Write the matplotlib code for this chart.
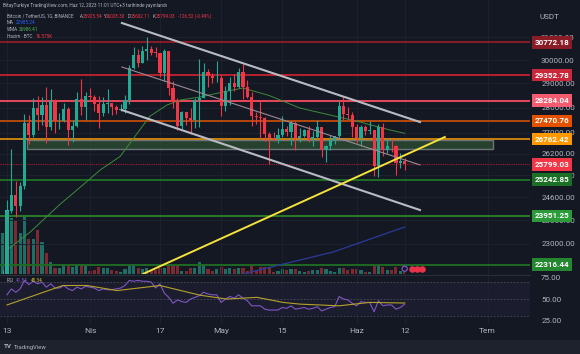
import numpy as np
import matplotlib.pyplot as plt
import matplotlib.transforms as mtransforms
from matplotlib.patches import Rectangle
from matplotlib.ticker import NullLocator

plt.rcParams['font.family'] = ['Roboto', 'DejaVu Sans']

# ---- daily candles BTCUSDT, day 0 = 13 Mar 2023 ----
days = list(range(-1, 92))
opens = [20455, 21998, 24113, 24670, 24285, 24998, 27395, 26907, 27972, 27717,
         28105, 27250, 28295, 27454, 27462, 27968, 27124, 27261, 28348, 28028,
         28465, 28452, 28171, 27800, 28165, 28175, 28033, 27906, 27948, 28333,
         29652, 30235, 29884, 30394, 30485, 30318, 30316, 29431, 30380, 28797,
         28243, 27262, 27817, 27591, 27514, 28300, 28414, 29472, 29311, 29231,
         29233, 28068, 28669, 29026, 28838, 29506, 28848, 28430, 27668, 27628,
         27598, 26969, 26796, 26775, 26917, 27163, 27033, 27405, 26822, 26891,
         27102, 26748, 26849, 27226, 26334, 26476, 26720, 26868, 28085, 27745,
         27702, 27219, 26819, 27249, 27069, 27115, 25728, 27230, 26339, 26498,
         26477, 25841, 25925.54]
highs = [22150, 24500, 26386, 25196, 25167, 27756, 27724, 28390, 28472, 28438,
         28868, 28750, 28374, 27787, 28194, 28044, 27499, 28650, 29184, 28660,
         28799, 28530, 28500, 28444, 28775, 28190, 28100, 28173, 28530, 29770,
         30550, 30480, 30620, 31000, 30610, 30550, 30316, 30485, 30413, 29095,
         28380, 27876, 27818, 28000, 28400, 30036, 29890, 29600, 29448, 29969,
         29337, 28879, 29266, 29379, 29677, 29820, 29138, 28631, 27834, 28336,
         27624, 27055, 27020, 27190, 27666, 27279, 27465, 27485, 27183, 27150,
         27266, 27060, 27495, 27248, 26538, 26932, 26886, 28261, 28447, 28044,
         27834, 27350, 27300, 27317, 27455, 27132, 27355, 27400, 26808, 26783,
         26533, 26210, 26028.30]
lows = [20270, 21813, 24046, 23896, 24123, 24890, 26578, 26827, 27124, 27303,
        26601, 27105, 27000, 27156, 27417, 26552, 26631, 27240, 27720, 27525,
        28266, 27856, 27200, 27662, 27805, 27711, 27766, 27871, 27800, 28170,
        29600, 29700, 29866, 30000, 30238, 30120, 29275, 29100, 28534, 28010,
        27125, 27150, 27331, 26942, 27200, 27235, 28380, 28870, 29031, 29080,
        27666, 27872, 28110, 28667, 28800, 28374, 28395, 27270, 27339, 26777,
        26706, 25811, 26698, 26600, 26847, 26867, 26550, 26361, 26630, 26830,
        26652, 26500, 26806, 26080, 25871, 26339, 26560, 26783, 27524, 27554,
        26841, 26605, 26505, 26920, 26951, 25388, 25350, 26126, 26210, 26269,
        25400, 25676, 25602.11]
closes = opens[1:] + [25799.03]

# volume, thousand BTC
volumes = [410, 640, 560, 540, 410, 590, 350, 350, 440, 320,
           210, 120, 60, 60, 80, 80, 70, 100, 100, 90,
           30, 40, 70, 60, 60, 40, 30, 20, 50, 80,
           80, 60, 50, 60, 30, 40, 60, 60, 90, 80,
           80, 30, 30, 60, 60, 120, 90, 50, 30, 50,
           70, 50, 60, 50, 60, 60, 30, 80, 40, 70,
           70, 70, 20, 30, 50, 40, 50, 50, 30, 20,
           30, 40, 40, 60, 50, 30, 20, 60, 60, 40,
           50, 50, 40, 20, 20, 80, 80, 70, 40, 40,
           70, 30, 20]

# moving averages (day, value)
wma_days = [0, 5.3, 12.1, 17.4, 21.3, 25.9, 29.3, 32.7, 36.6, 39.6, 44.2, 49.4, 54, 60, 67, 73.9, 80.8, 87.6, 91]
wma_vals = [22800, 23397, 24350, 25050, 25590, 26100, 26870, 27660, 28111, 28315, 28438, 28644, 28811, 28500, 27990, 27709, 27429, 27115, 26986]
ma_days = [54, 59.5, 74.6, 91]
ma_vals = [22020, 22213, 22731, 23568]

# RSI (14) and its moving average
rsi_vals = [55, 62, 58, 62, 72, 67, 71, 68, 70, 64, 68, 63, 63, 66, 62, 60, 64, 62, 65, 64,
            63, 60, 62, 61, 61, 62, 63, 66, 72, 71, 72, 71, 71, 70, 63, 68, 57, 52, 45, 49,
            47, 46, 50, 52, 54, 58, 56, 55, 55, 46, 50, 53, 51, 55, 51, 48, 42, 42, 42, 38,
            37, 37, 37, 40, 39, 42, 38, 39, 40, 38, 39, 41, 36, 38, 40, 41, 53, 50, 49, 45,
            42, 47, 46, 46, 35, 48, 42, 43, 43, 38, 40, 44]
rsi_ma_days = [0, 12.8, 18.3, 25.2, 35, 44.2, 50.3, 57.2, 63.2, 67, 76, 83, 91]
rsi_ma_vals = [43, 66, 66, 60, 66, 54.5, 50, 52, 46, 44, 42, 46, 45.3]

# drawings (day, price)
chan_days = [26.3, 94.5]
chan_upper = [31648, 27429]
chan_mid = [29698, 25780]
chan_lower = [27909, 24154]
trend_days = [31.1, 100.2]
trend_vals = [22020, 26842]
zone_days = [4.5, 111.2]
zone_vals = [26380, 26740]

levels = [30772.18, 29352.78, 28284.04, 27470.76, 26762.42, 25242.85, 23951.25, 22316.44]
level_line = ['#8a1c26', '#b8222f', '#e8485c', '#b6480c', '#c9810f', '#1f6e24', '#2a7a2a', '#1f6a24']
level_box = ['#8a1c26', '#c8283a', '#f45b6e', '#e65100', '#ff9800', '#1c7025', '#2b9a38', '#24862f']
last_price = 25799.03

price_ticks = [23000, 23800, 24600, 25400, 26200, 27000, 28000, 29000, 30000, 31000]
date_pos = [0, 19, 35, 49, 63, 80, 91, 110]
date_labels = ['13', 'Nis', '17', 'May', '15', 'Haz', '12', 'Tem']

BG = '#141823'
GRID = '#1d2130'
TXT = '#b2b5be'
UP = '#22ab94'
DOWN = '#f23645'

W, H = 580, 354
def box(x0, y0, x1, y1):
    return [x0 / W, 1 - y1 / H, (x1 - x0) / W, (y1 - y0) / H]

fig = plt.figure(figsize=(5.8, 3.54), dpi=100, facecolor=BG)
xlim = (-1.6, 119.68)

# volume pane (behind price)
axv = fig.add_axes(box(0, 0, 530, 274))
axv.set_facecolor(BG)
vcol = ['#1d6f66' if c >= o else '#7b2a30' for o, c in zip(opens, closes)]
vcol[1] = '#22c7a4'
axv.bar(days, volumes, width=0.72, color=vcol)
axv.set_xlim(xlim)
axv.set_ylim(0, 2740)
axv.set_xticks(date_pos)
axv.grid(axis='x', color=GRID, lw=0.7)
axv.set_yticks([])
axv.tick_params(length=0, labelbottom=False)
for s in axv.spines.values():
    s.set_visible(False)

# price pane
ax = fig.add_axes(box(0, 0, 530, 274))
ax.patch.set_visible(False)
ax.set_yscale('log')
ax.set_xlim(xlim)
ax.set_ylim(22021, 32718)
ax.yaxis.set_minor_locator(NullLocator())
ax.set_yticks(price_ticks, [f'{p:.2f}' for p in price_ticks])
ax.yaxis.tick_right()
ax.tick_params(axis='y', length=0, pad=8, labelsize=5.8, labelcolor=TXT)
ax.set_xticks(date_pos)
ax.tick_params(axis='x', length=0, labelbottom=False)
ax.grid(axis='y', color=GRID, lw=0.7)
for s in ax.spines.values():
    s.set_visible(False)

# zone box
ax.add_patch(Rectangle((zone_days[0], zone_vals[0]), zone_days[1] - zone_days[0],
                       zone_vals[1] - zone_vals[0], fc='#2a4a30', ec='#7d8088',
                       lw=1.0, alpha=0.85, zorder=2))

# horizontal levels
for p, c in zip(levels, level_line):
    ax.axhline(p, color=c, lw=1.4, zorder=2.5)
ax.axhline(last_price, color='#a3202c', lw=0.8, ls=(0, (1, 1)), zorder=2.5)

# moving averages
ax.plot(wma_days, wma_vals, color='#3d8b3d', lw=0.7, zorder=3)
ax.plot(ma_days, ma_vals, color='#2b3a9a', lw=0.9, zorder=3)

# candles
cc = [UP if c >= o else DOWN for o, c in zip(opens, closes)]
ax.vlines(days, lows, highs, colors=cc, lw=0.8, zorder=4)
bottoms = [min(o, c) for o, c in zip(opens, closes)]
heights = [max(abs(c - o), 15) for o, c in zip(opens, closes)]
ax.bar(days, heights, bottom=bottoms, width=0.72, color=cc, zorder=5)

# channel and trend drawings
ax.plot(chan_days, chan_upper, color='#b8bbc4', lw=1.5, zorder=6)
ax.plot(chan_days, chan_lower, color='#b8bbc4', lw=1.5, zorder=6)
ax.plot(chan_days, chan_mid, color='#9c8a93', lw=0.8, zorder=6)
ax.plot(trend_days, trend_vals, color='#f5e23a', lw=1.4, zorder=6)

# event markers
ax.scatter([91], [22190], s=14, facecolor='none', edgecolor='#8e5bd8', lw=0.8, zorder=7, clip_on=False)
ax.scatter([92.6, 93.8, 95.0], [22190] * 3, s=14, color='#e8334a', zorder=7, clip_on=False)

# level labels on price scale
bt = mtransforms.blended_transform_factory(ax.transAxes, ax.transData)
for p, c in zip(levels, level_box):
    ax.text(1.0085, p, f'{p:.2f}', transform=bt, ha='left', va='center', fontsize=5.8,
            color='white', fontweight='bold', clip_on=False, zorder=10,
            bbox=dict(boxstyle='square,pad=0.35', fc=c, ec='none'))
ax.text(1.0085, last_price, f'{last_price:.2f}', transform=bt, ha='left', va='center',
        fontsize=5.8, color='white', fontweight='bold', clip_on=False, zorder=10,
        bbox=dict(boxstyle='square,pad=0.35', fc='#f23645', ec='none'))
fig.text(540 / W, 1 - 17 / H, 'USDT', color=TXT, fontsize=5.8, va='center')

# RSI pane
axr = fig.add_axes(box(0, 275, 530, 324))
axr.set_facecolor(BG)
axr.set_xlim(xlim)
axr.set_ylim(20.5, 78.4)
axr.axhspan(30, 70, color='#7e57c2', alpha=0.08, lw=0)
for lv in (70, 50, 30):
    axr.axhline(lv, color='#4a4e5c', lw=0.6, ls=(0, (2, 2)))
axr.plot(range(0, 92), rsi_vals, color='#7e57c2', lw=0.8)
axr.plot(rsi_ma_days, rsi_ma_vals, color='#b5a22a', lw=0.8)
axr.set_xticks(date_pos, date_labels)
axr.grid(axis='x', color=GRID, lw=0.7)
axr.yaxis.tick_right()
axr.set_yticks([25, 50, 75], ['25.00', '50.00', '75.00'])
axr.tick_params(axis='y', length=0, pad=8, labelsize=5.8, labelcolor=TXT)
axr.tick_params(axis='x', length=0, pad=3, labelsize=6, labelcolor=TXT)
for s in axr.spines.values():
    s.set_visible(False)
fig.add_artist(plt.Line2D([0, 530 / W], [1 - 274.5 / H] * 2, color='#2a2e39', lw=0.8))

# headers
fig.text(3 / W, 1 - 6 / H, 'BitayTurkiye TradingView.com, Haz 12, 2023 11:01 UTC+3 tarihinde yayınlandı',
         color=TXT, fontsize=3.4, va='center')
fig.text(7 / W, 1 - 16 / H, 'Bitcoin / TetherUS, 1G, BINANCE', color=TXT, fontsize=3.3, va='center')
for x0, lab, val in [(80, 'A', '25925.54'), (103, 'Y', '26028.30'), (128, 'D', '25602.11'), (153, 'K', '25799.03')]:
    fig.text(x0 / W, 1 - 16 / H, lab, color=TXT, fontsize=3.3, va='center')
    fig.text((x0 + 3) / W, 1 - 16 / H, val, color=DOWN, fontsize=3.3, va='center')
fig.text(178 / W, 1 - 16 / H, '-126.52 (-0.49%)', color=DOWN, fontsize=3.3, va='center')
fig.text(7 / W, 1 - 23 / H, 'MA', color=TXT, fontsize=3.3, va='center')
fig.text(16 / W, 1 - 23 / H, '22985.24', color='#2962ff', fontsize=3.3, va='center')
fig.text(7 / W, 1 - 29.5 / H, 'WMA', color=TXT, fontsize=3.3, va='center')
fig.text(19 / W, 1 - 29.5 / H, '26986.41', color='#4caf50', fontsize=3.3, va='center')
fig.text(7 / W, 1 - 36 / H, 'Hacim · BTC', color=TXT, fontsize=3.3, va='center')
fig.text(36 / W, 1 - 36 / H, '16.575K', color=DOWN, fontsize=3.3, va='center')
fig.text(7 / W, 1 - 280 / H, 'RSI', color=TXT, fontsize=3.3, va='center')
fig.text(16 / W, 1 - 280 / H, '41.84', color='#7e57c2', fontsize=3.3, va='center')
fig.text(31 / W, 1 - 280 / H, '45.34', color='#d4c12a', fontsize=3.3, va='center')

# bottom bar
fig.add_artist(Rectangle((0, 0), 1, 14 / H, transform=fig.transFigure, fc='#1e222d', ec='none'))
fig.text(4 / W, 7 / H, 'TV', color=TXT, fontsize=4.5, fontweight='bold', va='center')
fig.text(14 / W, 7 / H, 'TradingView', color=TXT, fontsize=4.2, va='center')

fig.savefig('out.png', dpi=100, facecolor=BG)
